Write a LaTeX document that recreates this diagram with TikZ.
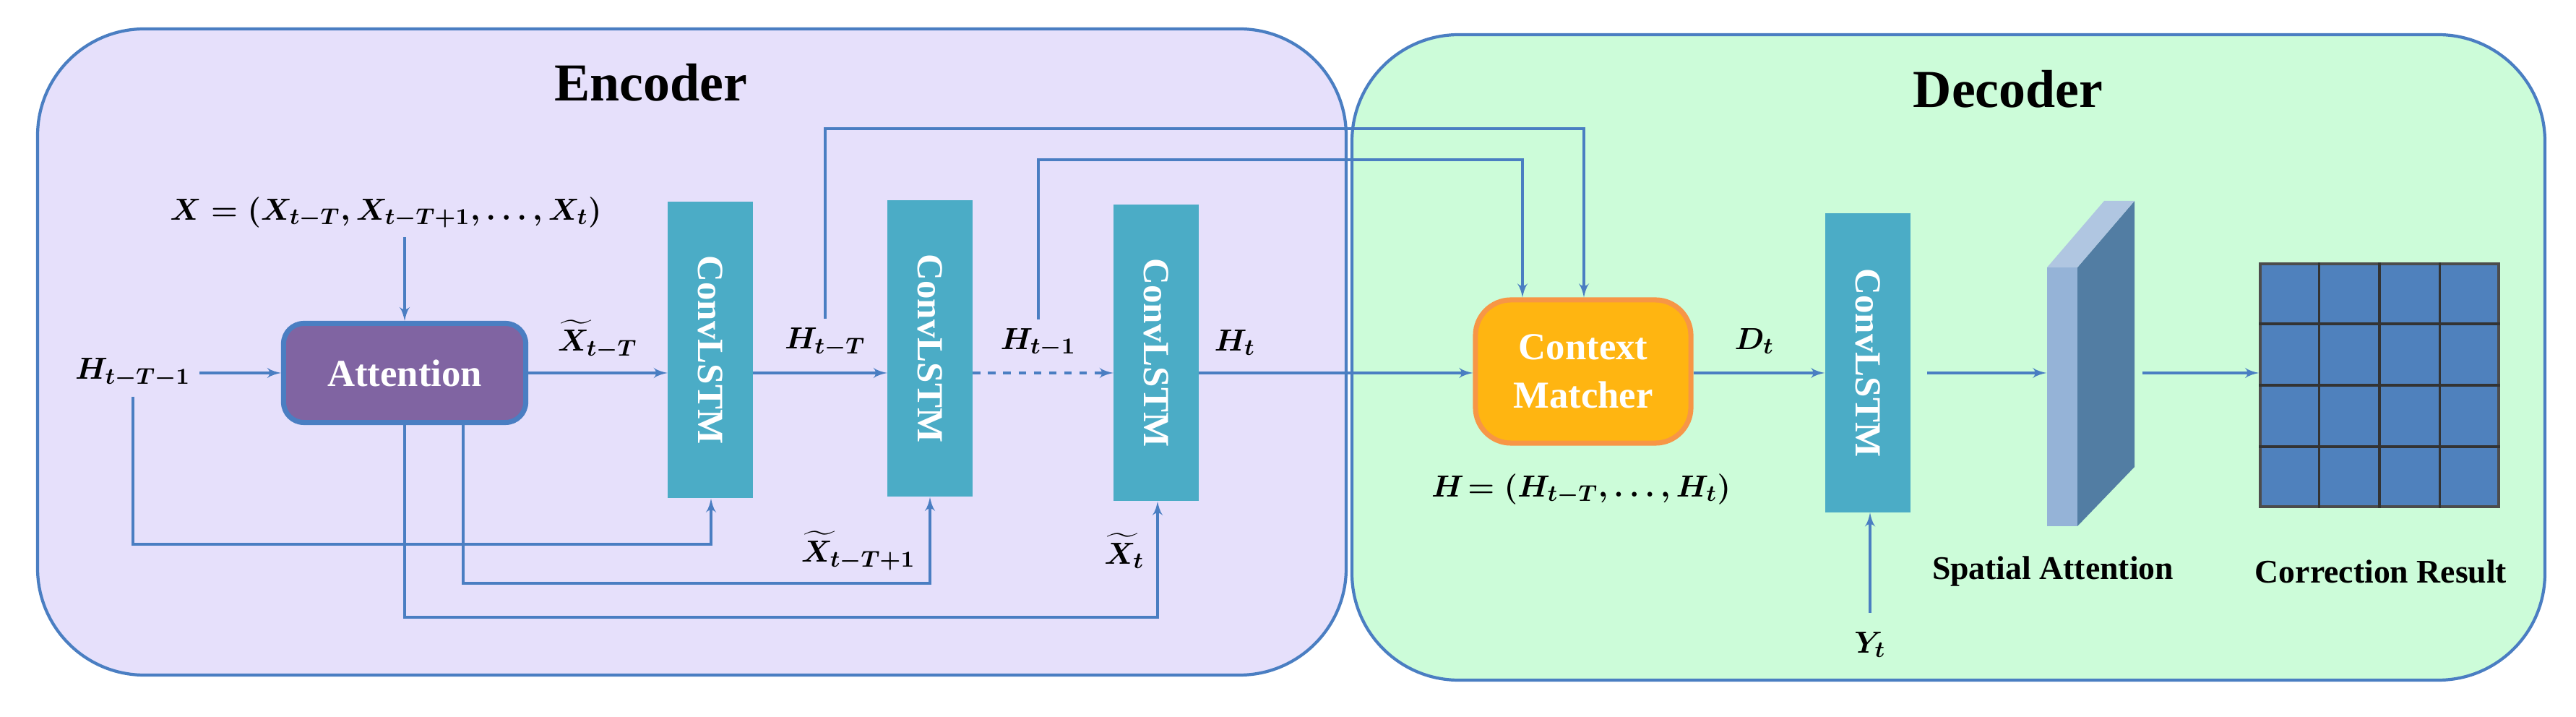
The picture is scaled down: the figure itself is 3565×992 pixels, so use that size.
\documentclass[tikz,border=0pt]{standalone}
\usepackage{fontspec}
\setmainfont{Liberation Serif}
\usepackage{amsmath}
\usepackage{bm}
\usetikzlibrary{arrows,calc}
\definecolor{lineblue}{HTML}{4A7EC2}
\definecolor{encfill}{HTML}{E6E0FB}
\definecolor{decfill}{HTML}{CCFCD9}
\definecolor{lstm}{HTML}{4BACC6}
\definecolor{attn}{HTML}{8064A2}
\definecolor{ctx}{HTML}{FFB511}
\definecolor{ctxline}{HTML}{F79646}
\definecolor{gridblue}{HTML}{4F81BD}
\tikzset{
  panel/.style={draw=lineblue,line width=1.2pt,rounded corners=42pt},
  lstmbox/.style={fill=lstm,rotate=-90,minimum width=4.1cm,minimum height=1.17cm,
    text=white,font=\bfseries\fontsize{14.5}{16}\selectfont},
  lbl/.style={font=\fontsize{12.5}{15}\selectfont\boldmath},
  caption/.style={font=\bfseries\fontsize{13}{15}\selectfont},
  flow/.style={draw=lineblue,line width=0.9pt,-latex'}
}
\begin{document}
\begin{tikzpicture}[x=0.01cm,y=0.01cm]
    \useasboundingbox (0,0) rectangle (3565,-992);
    % panels
    \draw[panel,fill=encfill] (52,-40) rectangle (1863,-934);
    \draw[panel,fill=decfill] (1871,-48) rectangle (3522,-941);
    \node[font=\bfseries\fontsize{21}{25}\selectfont] (enc) at (901,-114) {Encoder};
    \node[font=\bfseries\fontsize{21}{25}\selectfont] (dec) at (2779,-123) {Decoder};

    % encoder blocks
    \node[draw=lineblue,line width=2pt,fill=attn,rounded corners=8pt,minimum width=3.35cm,
          minimum height=1.37cm,text=white,font=\bfseries\fontsize{15}{17}\selectfont]
          (att) at (560,-516) {Attention};
    \node[lstmbox] (c1) at (983,-484) {ConvLSTM};
    \node[lstmbox] (c2) at (1287,-482) {ConvLSTM};
    \node[lstmbox] (c3) at (1600,-488) {ConvLSTM};

    \node[lbl] (hin) at (184,-516) {$H_{t-T-1}$};
    \node[lbl] (xin) at (534,-294) {$X=(X_{t-T},X_{t-T+1},\ldots,X_t)$};
    \node[lbl] (x1) at (827,-470) {$\widetilde{X}_{t-T}$};
    \node[lbl] (h1) at (1142,-474) {$H_{t-T}$};
    \node[lbl] (h2) at (1437,-474) {$H_{t-1}$};
    \node[lbl] (h3) at (1709,-474) {$H_t$};
    \node[lbl] (x2) at (1188,-762) {$\widetilde{X}_{t-T+1}$};
    \node[lbl] (x3) at (1556,-762) {$\widetilde{X}_t$};

    % decoder blocks
    \node[draw=ctxline,line width=2pt,fill=ctx,rounded corners=14pt,minimum width=2.98cm,
          minimum height=1.98cm,text=white,align=center,font=\bfseries\fontsize{15}{19}\selectfont]
          (cm) at (2191,-514) {Context\\Matcher};
    \node[lbl] (hseq) at (2188,-677) {$H\!=(H_{t-T},\ldots,H_t)$};
    \node[lbl] (dt) at (2428,-472) {$D_t$};
    \node[lstmbox,minimum width=4.13cm,minimum height=1.18cm] (c4) at (2585,-502) {ConvLSTM};
    \node[lbl] (yt) at (2588,-892) {$Y_t$};
    \coordinate (ytop) at (2588,-848);

    % spatial attention slab
    \fill[fill=lstm!20!gridblue!80!black!90] (2875,-370) -- (2954,-278) -- (2954,-646) -- (2875,-728) -- cycle;
    \fill[fill=gridblue!45] (2833,-370) -- (2912,-278) -- (2954,-278) -- (2875,-370) -- cycle;
    \fill[fill=gridblue!60] (2833,-370) rectangle (2875,-728);
    \node[inner sep=0pt,minimum width=1.2cm,minimum height=3.6cm] (sa) at (2893,-516) {};
    \node[caption] (salbl) at (2841,-791) {Spatial Attention};

    % result grid
    \node[fill=gridblue,draw=black!70,line width=1pt,minimum width=3.3cm,minimum height=3.36cm,
          inner sep=0pt] (res) at (3293,-533) {};
    \foreach \i in {1,2,3} {
      \draw[black!80,line width=1pt] ($(res.north west)!\i/4!(res.north east)$) -- ($(res.south west)!\i/4!(res.south east)$);
      \draw[black!80,line width=1pt] ($(res.north west)!\i/4!(res.south west)$) -- ($(res.north east)!\i/4!(res.south east)$);
    }
    \node[caption] (reslbl) at (3295,-791) {Correction Result};

    % turning points of the long wires
    \coordinate (r1) at (2192,-178);
    \coordinate (r2) at (2107,-221);
    \coordinate (b1) at (984,-753);
    \coordinate (b2) at (641,-807);
    \coordinate (b3) at (1602,-854);
    \coordinate (s1) at (2667,-516);
    \coordinate (s2) at (2965,-516);

    % connectors
    \draw[flow] (hin) -- (att);
    \draw[flow] (xin.south -| att) -- (att);
    \draw[flow] (att) -- (c1.south |- att);
    \draw[flow] (c1.north |- att) -- (c2.south |- att);
    \draw[flow,dashed] (c2.north |- att) -- (c3.south |- att);
    \draw[flow] (c3.north |- att) -- (cm.west |- att);
    \draw[flow] (h1.north) |- (r1) -- (cm.north -| r1);
    \draw[flow] (h2.north) |- (r2) -- (cm.north -| r2);
    \draw[flow] (hin.south) |- (b1) -- (c1.east -| b1);
    \draw[flow] (att.south -| b2) |- (b2 -| c2.east) -- (c2.east);
    \draw[flow] (att.south) |- (b3) -- (c3.east -| b3);
    \draw[flow] (cm.east |- att) -- (c4.south |- att);
    \draw[flow] (ytop) -- (c4.east -| ytop);
    \draw[flow] (s1) -- (sa.west);
    \draw[flow] (s2) -- (res.west |- s2);
  \end{tikzpicture}
\end{document}
